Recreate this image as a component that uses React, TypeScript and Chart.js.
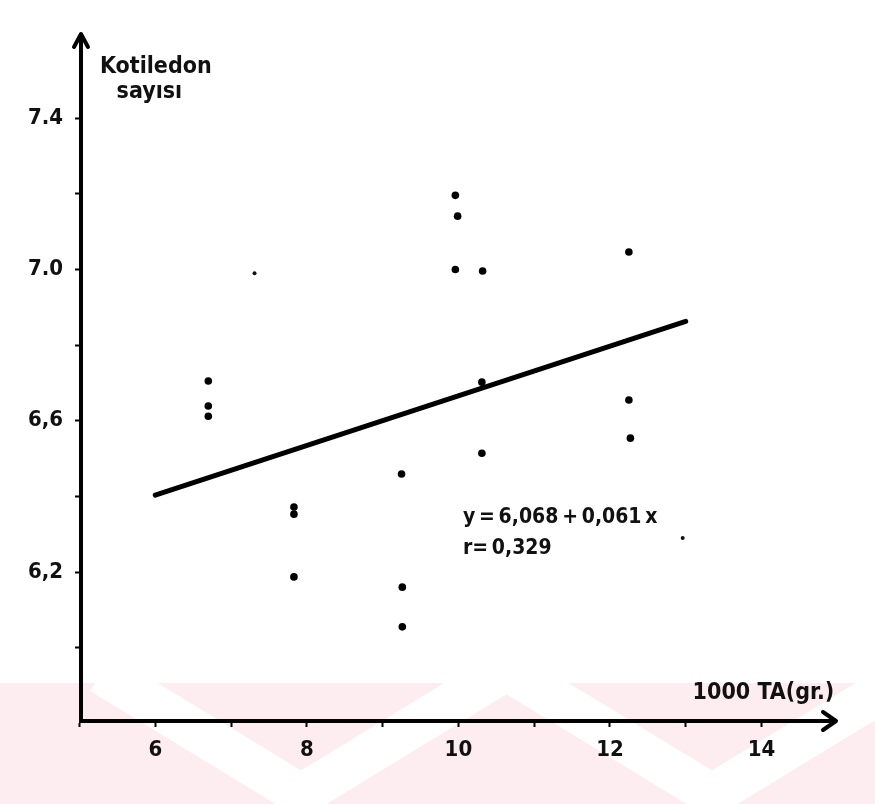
import React, { useEffect, useRef } from "react";
import { Chart, registerables } from "chart.js";

Chart.register(...registerables);

// Observed points (1000 TA in g, cotyledon count)
const taValues = [
  6.7, 6.7, 6.7,
  7.83, 7.83, 7.83,
  9.25, 9.26, 9.26,
  9.96, 9.99, 9.96,
  10.32, 10.31, 10.31,
  12.25, 12.25, 12.27,
];
const cotyledonValues = [
  6.705, 6.639, 6.612,
  6.372, 6.353, 6.187,
  6.459, 6.16, 6.055,
  7.196, 7.141, 7.0,
  6.996, 6.702, 6.514,
  7.046, 6.655, 6.554,
];

// Small printed dots
const faintX = [7.31, 12.96];
const faintY = [6.99, 6.29];

// Regression line as drawn
const lineX = [6, 13];
const lineY = [6.403, 6.863];

// Axis ticks
const xTickValues = [5, 6, 7, 8, 9, 10, 11, 12, 13, 14];
const xTickLabels = ["", "6", "", "8", "", "10", "", "12", "", "14"];
const yTickValues = [6.0, 6.2, 6.4, 6.6, 6.8, 7.0, 7.2, 7.4];
const yTickLabels = ["", "6,2", "", "6,6", "", "7.0", "", "7.4"];

const equationText = "y\u2009=\u20096,068\u2009+\u20090,061\u2009x";
const rText = "r=\u20090,329";
const yTitle = ["Kotiledon", "sayısı"];
const xTitle = "1000 TA(gr.)";

const FONT = "'DejaVu Sans Condensed', 'Liberation Sans Narrow', sans-serif";

const decorPlugin = {
  id: "decor",
  beforeDraw(chart: any) {
    const ctx = chart.ctx;
    const W = chart.width;
    const H = chart.height;
    ctx.save();
    ctx.fillStyle = "#ffffff";
    ctx.fillRect(0, 0, W, H);
    // watermark band
    const top = 683;
    ctx.beginPath();
    ctx.rect(0, top, W, H - top);
    ctx.clip();
    ctx.fillStyle = "rgb(253,236,240)";
    ctx.fillRect(0, top, W, H - top);
    ctx.strokeStyle = "#ffffff";
    ctx.lineWidth = 42;
    ctx.lineJoin = "miter";
    const vs = [301, 712];
    for (const vx of vs) {
      ctx.beginPath();
      ctx.moveTo(vx - 200, top - 10);
      ctx.lineTo(vx, 795);
      ctx.lineTo(vx + 200, top - 10);
      ctx.stroke();
    }
    ctx.restore();
  },
  afterDraw(chart: any) {
    const ctx = chart.ctx;
    const xs = chart.scales.x;
    const ys = chart.scales.y;
    const left = chart.chartArea.left;
    const top = chart.chartArea.top;
    const right = chart.chartArea.right;
    const bottom = chart.chartArea.bottom;
    ctx.save();
    ctx.strokeStyle = "#000";
    ctx.lineWidth = 4;
    ctx.lineCap = "round";
    ctx.lineJoin = "round";
    // y arrow
    ctx.beginPath();
    ctx.moveTo(left - 7, top + 12);
    ctx.lineTo(left, top - 1);
    ctx.lineTo(left + 7, top + 12);
    ctx.stroke();
    // x arrow
    ctx.beginPath();
    ctx.moveTo(right - 12, bottom - 9);
    ctx.lineTo(right + 1, bottom);
    ctx.lineTo(right - 12, bottom + 9);
    ctx.stroke();

    ctx.fillStyle = "#111";
    ctx.textBaseline = "middle";
    ctx.textAlign = "left";
    ctx.font = `bold 23px ${FONT}`;
    ctx.fillText(yTitle[0], xs.getPixelForValue(5.27), ys.getPixelForValue(7.535));
    ctx.fillText(yTitle[1], xs.getPixelForValue(5.49), ys.getPixelForValue(7.469));
    ctx.textAlign = "right";
    ctx.fillText(xTitle, xs.getPixelForValue(14.96), ys.getPixelForValue(5.88));
    ctx.textAlign = "left";
    ctx.font = `bold 21px ${FONT}`;
    ctx.fillText(equationText, xs.getPixelForValue(10.06), ys.getPixelForValue(6.343));
    ctx.fillText(rText, xs.getPixelForValue(10.06), ys.getPixelForValue(6.263));
    ctx.restore();
  },
};

export default function App() {
  const ref = useRef<HTMLCanvasElement | null>(null);
  useEffect(() => {
    if (!ref.current) return;
    const chart = new Chart(ref.current, {
      type: "scatter",
      data: {
        datasets: [
          {
            type: "line",
            data: lineX.map((x, i) => ({ x, y: lineY[i] })),
            borderColor: "#000",
            borderWidth: 5,
            pointRadius: 0,
            borderCapStyle: "round",
          } as any,
          {
            data: taValues.map((x, i) => ({ x, y: cotyledonValues[i] })),
            backgroundColor: "#000",
            borderColor: "#000",
            borderWidth: 0,
            pointRadius: 3.8,
          },
          {
            data: faintX.map((x, i) => ({ x, y: faintY[i] })),
            backgroundColor: "#111",
            borderWidth: 0,
            pointRadius: 2,
          },
        ],
      },
      options: {
        responsive: false,
        animation: false,
        devicePixelRatio: 1,
        layout: { padding: { left: 0, top: 35, right: 40, bottom: 0 } },
        plugins: { legend: { display: false }, tooltip: { enabled: false } },
        scales: {
          x: {
            type: "linear",
            min: 5.02,
            max: 14.97,
            afterBuildTicks: (s: any) => {
              s.ticks = xTickValues.map((v) => ({ value: v }));
            },
            afterFit: (s: any) => {
              s.height = 83;
            },
            grid: {
              display: true,
              drawOnChartArea: false,
              drawTicks: true,
              tickLength: 6,
              tickWidth: 2,
              tickColor: "#000",
              color: "#000",
            },
            border: { display: true, color: "#000", width: 4 },
            ticks: {
              autoSkip: false,
              maxRotation: 0,
              padding: 10,
              color: "#111",
              font: { family: FONT, size: 22, weight: "bold" },
              callback: (_v: any, i: number) => xTickLabels[i],
            },
          },
          y: {
            type: "linear",
            min: 5.806,
            max: 7.62,
            afterBuildTicks: (s: any) => {
              s.ticks = yTickValues.map((v) => ({ value: v }));
            },
            afterFit: (s: any) => {
              s.width = 81;
            },
            grid: {
              display: true,
              drawOnChartArea: false,
              drawTicks: true,
              tickLength: 6,
              tickWidth: 2,
              tickColor: "#000",
              color: "#000",
            },
            border: { display: true, color: "#000", width: 4 },
            ticks: {
              autoSkip: false,
              padding: 12,
              color: "#111",
              font: { family: FONT, size: 22, weight: "bold" },
              callback: (_v: any, i: number) => yTickLabels[i],
            },
          },
        },
      },
      plugins: [decorPlugin],
    });
    return () => chart.destroy();
  }, []);
  return (
    <div style={{ position: "fixed", left: 0, top: 0, width: 875, height: 804, background: "#fff" }}>
      <canvas ref={ref} width={875} height={804} style={{ display: "block" }} />
    </div>
  );
}
